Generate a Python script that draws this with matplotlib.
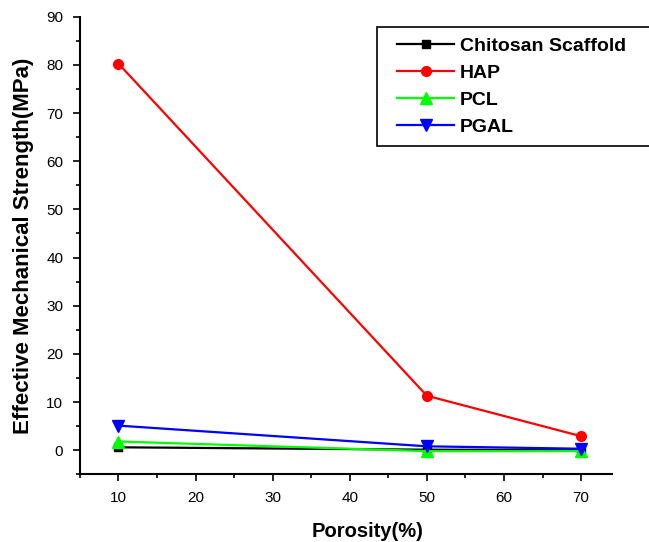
import matplotlib
matplotlib.use("Agg")
import matplotlib.pyplot as plt
from matplotlib.ticker import MultipleLocator
from matplotlib.legend_handler import HandlerLine2D
from matplotlib.lines import Line2D

plt.rcParams['font.family'] = ['Liberation Sans', 'DejaVu Sans']

porosity = [10, 50, 70]
chitosan = [0.6, 0.1, 0.05]
hap = [80.3, 11.3, 2.9]
pcl = [1.8, -0.2, -0.2]
pgal = [5.1, 0.8, 0.3]

fig = plt.figure(figsize=(6.49, 5.42), dpi=100)
ax = fig.add_axes([0.123, 0.125, 0.820, 0.844])

ax.plot(porosity, chitosan, color='black', marker='s', ms=6, lw=1.6, label='Chitosan Scaffold')
ax.plot(porosity, hap, color='red', marker='o', ms=7, lw=1.6, label='HAP')
ax.plot(porosity, pcl, color='#00ff00', marker='^', ms=8, lw=1.6, label='PCL')
ax.plot(porosity, pgal, color='blue', marker='v', ms=8, lw=1.6, label='PGAL')

ax.set_xlim(5, 74)
ax.set_ylim(-5, 90)
ax.xaxis.set_major_locator(MultipleLocator(10))
ax.xaxis.set_minor_locator(MultipleLocator(5))
ax.yaxis.set_major_locator(MultipleLocator(10))
ax.yaxis.set_minor_locator(MultipleLocator(5))
ax.tick_params(which='major', direction='out', length=5, width=1.2, labelsize=11, pad=7)
ax.tick_params(which='minor', direction='out', length=3, width=1.2)
ax.spines['top'].set_visible(False)
ax.spines['right'].set_visible(False)
ax.spines['left'].set_linewidth(1.5)
ax.spines['bottom'].set_linewidth(1.5)

ax.set_xlabel('Porosity(%)', fontsize=14.5, fontweight='bold', labelpad=12)
ax.xaxis.label.set_x(0.541)
ax.set_ylabel('Effective Mechanical Strength(MPa)', fontsize=16, fontweight='bold', labelpad=9)

leg = fig.legend(loc='upper left', bbox_to_anchor=(377 / 649, 1 - 27 / 542 - 0.01, 290 / 649, 0.01),
                 mode='expand', borderaxespad=0, fancybox=False,
                 edgecolor='black', framealpha=1, prop={'weight': 'bold', 'size': 14},
                 handlelength=3.4, handletextpad=0.3, borderpad=0.55, labelspacing=0.47,
                 handler_map={Line2D: HandlerLine2D(xpad=0.5)})
leg.get_frame().set_linewidth(1.2)

plt.savefig('out.png', dpi=100)
